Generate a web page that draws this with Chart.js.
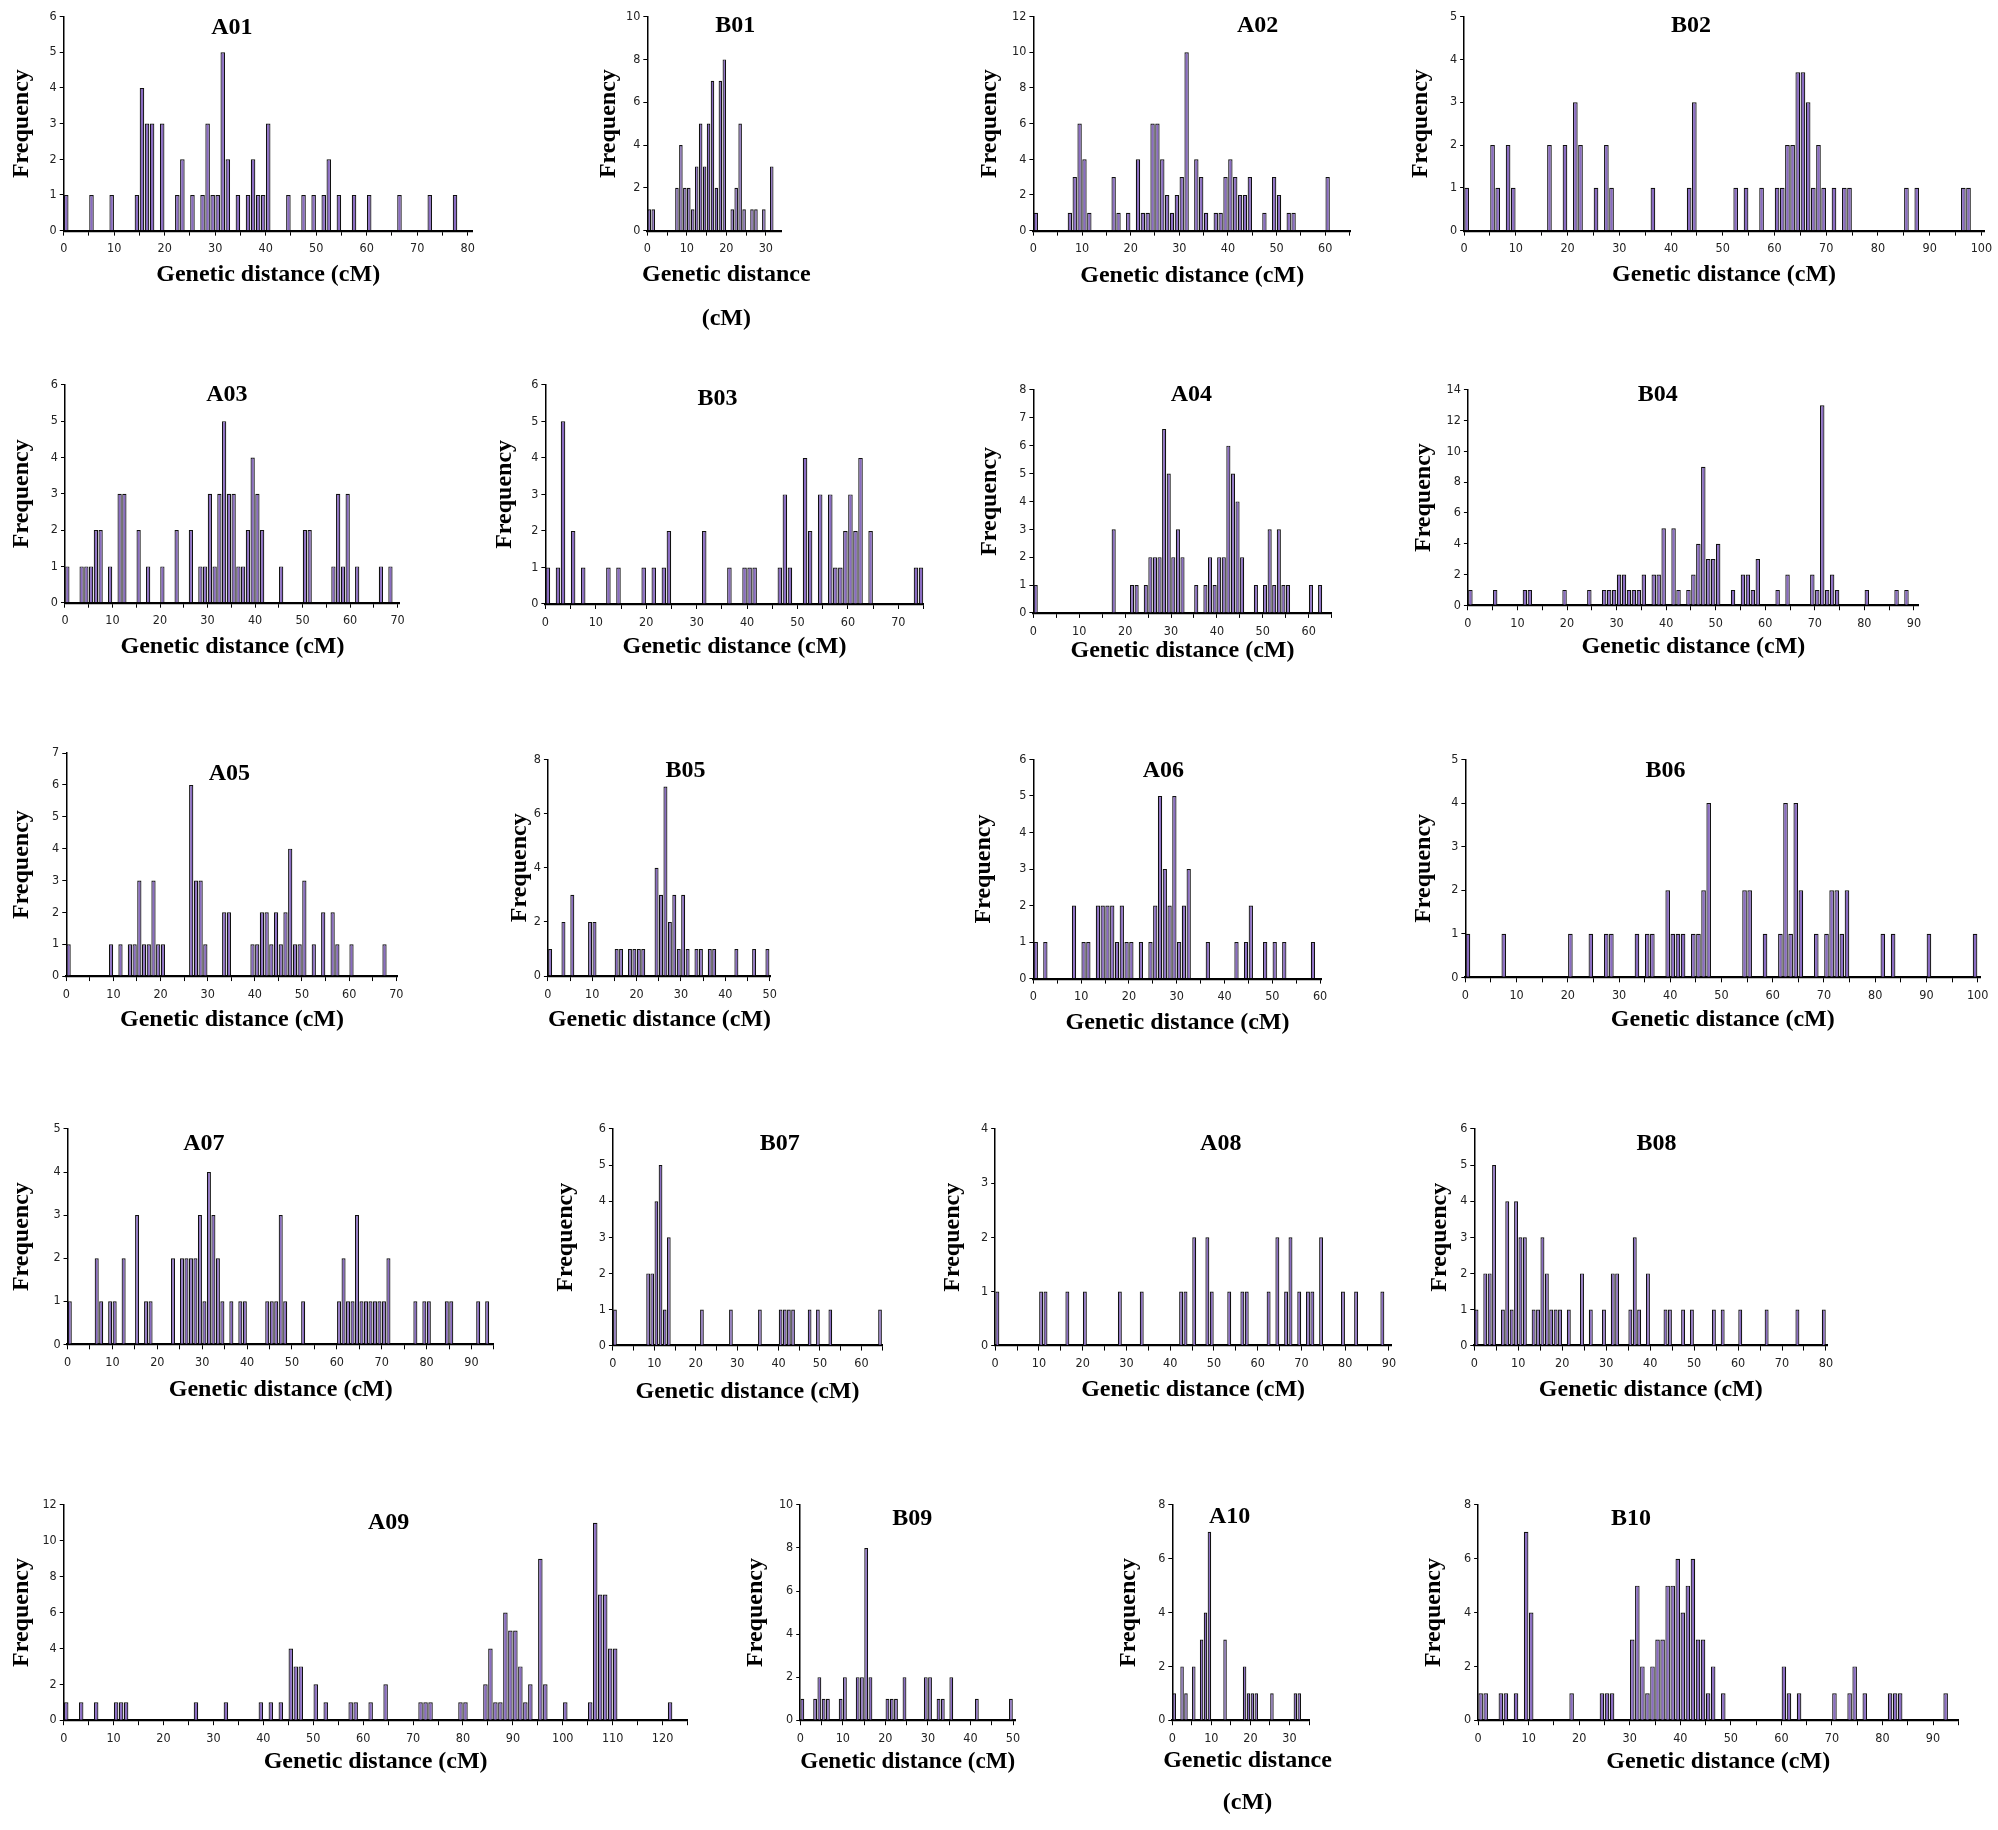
<!DOCTYPE html>
<html><head><meta charset="utf-8">
<script src="https://cdn.jsdelivr.net/npm/chart.js@4.4.1/dist/chart.umd.min.js"></script>
<style>
html,body{margin:0;padding:0;background:#fff;}
#wrap{position:relative;width:1998px;height:1830px;overflow:hidden;background:#fff;}
canvas{position:absolute;}
</style></head><body><div id="wrap"></div>
<script>
// ---- Data: bin position (cM) and frequency for each linkage group ----
const A01_cM=[0,5,9,14,15,16,17,19,22,23,25,27,28,29,30,31,32,34,36,37,38,39,40,44,47,49,51,52,54,57,60,66,72,77];
const A01_freq=[1,1,1,1,4,3,3,3,1,2,1,1,3,1,1,5,2,1,1,2,1,1,3,1,1,1,1,2,1,1,1,1,1,1];
const B01_cM=[0,1,7,8,9,10,11,12,13,14,15,16,17,18,19,21,22,23,24,26,27,29,31];
const B01_freq=[1,1,2,4,2,2,1,3,5,3,5,7,2,7,8,1,2,5,1,1,1,1,3];
const A02_cM=[0,7,8,9,10,11,16,17,19,21,22,23,24,25,26,27,28,29,30,31,33,34,35,37,38,39,40,41,42,43,44,47,49,50,52,53,60];
const A02_freq=[1,1,3,6,4,1,3,1,1,4,1,1,6,6,4,2,1,2,3,10,4,3,1,1,1,3,4,3,2,2,3,1,3,2,1,1,3];
const B02_cM=[0,5,6,8,9,16,19,21,22,25,27,28,36,43,44,52,54,57,60,61,62,63,64,65,66,67,68,69,71,73,74,85,87,96,97];
const B02_freq=[1,2,1,2,1,2,2,3,2,1,2,1,1,1,3,1,1,1,1,1,2,2,3.7,3.7,3,1,2,1,1,1,1,1,1,1,1];
const A03_cM=[0,3,4,5,6,7,9,11,12,15,17,20,23,26,28,29,30,31,32,33,34,35,36,37,38,39,40,41,45,50,51,56,57,58,59,61,66,68];
const A03_freq=[1,1,1,1,2,2,1,3,3,2,1,1,2,2,1,1,3,1,3,5,3,3,1,1,2,4,3,2,1,2,2,1,3,1,3,1,1,1];
const B03_cM=[0,2,3,5,7,12,14,19,21,23,24,31,36,39,40,41,46,47,48,51,52,54,56,57,58,59,60,61,62,64,73,74];
const B03_freq=[1,1,5,2,1,1,1,1,1,1,2,2,1,1,1,1,1,3,1,4,2,3,3,1,1,2,3,2,4,2,1,1];
const A04_cM=[0,17,21,22,24,25,26,27,28,29,30,31,32,35,37,38,39,40,41,42,43,44,45,48,50,51,52,53,54,55,60,62];
const A04_freq=[1,3,1,1,1,2,2,2,6.6,5,2,3,2,1,1,2,1,2,2,6,5,4,2,1,1,3,1,3,1,1,1,1];
const B04_cM=[0,5,11,12,19,24,27,28,29,30,31,32,33,34,35,37,38,39,41,42,44,45,46,47,48,49,50,53,55,56,57,58,62,64,69,70,71,72,73,74,80,86,88];
const B04_freq=[1,1,1,1,1,1,1,1,1,2,2,1,1,1,2,2,2,5,5,1,1,2,4,9,3,3,4,1,2,2,1,3,1,2,2,1,13,1,2,1,1,1,1];
const A05_cM=[0,9,11,13,14,15,16,17,18,19,20,26,27,28,29,33,34,39,40,41,42,43,44,45,46,47,48,49,50,52,54,56,57,60,67];
const A05_freq=[1,1,1,1,1,3,1,1,3,1,1,6,3,3,1,2,2,1,1,2,2,1,2,1,2,4,1,1,3,1,2,2,1,1,1];
const B05_cM=[0,3,5,9,10,15,16,18,19,20,21,24,25,26,27,28,29,30,31,33,34,36,37,42,46,49];
const B05_freq=[1,2,3,2,2,1,1,1,1,1,1,4,3,7,2,3,1,3,1,1,1,1,1,1,1,1];
const A06_cM=[0,2,8,10,11,13,14,15,16,17,18,19,20,22,24,25,26,27,28,29,30,31,32,36,42,44,45,48,50,52,58];
const A06_freq=[1,1,2,1,1,2,2,2,2,1,2,1,1,1,1,2,5,3,2,5,1,2,3,1,1,1,2,1,1,1,1];
const B06_cM=[0,7,20,24,27,28,33,35,36,39,40,41,42,44,45,46,47,54,55,58,61,62,63,64,65,68,70,71,72,73,74,81,83,90,99];
const B06_freq=[1,1,1,1,1,1,1,1,1,2,1,1,1,1,1,2,4,2,2,1,1,4,1,4,2,1,1,2,2,1,2,1,1,1,1];
const A07_cM=[0,6,7,9,10,12,15,17,18,23,25,26,27,28,29,30,31,32,33,34,36,38,39,44,45,46,47,48,52,60,61,62,63,64,65,66,67,68,69,70,71,77,79,80,84,85,91,93];
const A07_freq=[1,2,1,1,1,2,3,1,1,2,2,2,2,2,3,1,4,3,2,1,1,1,1,1,1,1,3,1,1,1,2,1,1,3,1,1,1,1,1,1,2,1,1,1,1,1,1,1];
const B07_cM=[0,8,9,10,11,12,13,21,28,35,40,41,42,43,47,49,52,64];
const B07_freq=[1,2,2,4,5,1,3,1,1,1,1,1,1,1,1,1,1,1];
const A08_cM=[0,10,11,16,20,28,33,42,43,45,48,49,53,56,57,62,64,66,67,69,71,72,74,79,82,88];
const A08_freq=[1,1,1,1,1,1,1,1,1,2,2,1,1,1,1,1,2,1,2,1,1,1,2,1,1,1];
const B08_cM=[0,2,3,4,6,7,8,9,10,11,13,14,15,16,17,18,19,21,24,26,29,31,32,35,36,37,39,43,44,47,49,54,56,60,66,73,79];
const B08_freq=[1,2,2,5,1,4,1,4,3,3,1,1,3,2,1,1,1,1,2,1,1,2,2,1,3,1,2,1,1,1,1,1,1,1,1,1,1];
const A09_cM=[0,3,6,10,11,12,26,32,39,41,43,45,46,47,50,52,57,58,61,64,71,72,73,79,80,84,85,86,87,88,89,90,91,92,93,95,96,100,105,106,107,108,109,110,121];
const A09_freq=[1,1,1,1,1,1,1,1,1,1,1,4,3,3,2,1,1,1,1,2,1,1,1,1,1,2,4,1,1,6,5,5,3,1,2,9,2,1,1,11,7,7,4,4,1];
const B09_cM=[0,3,4,5,6,9,10,13,14,15,16,20,21,22,24,29,30,32,33,35,41,49];
const B09_freq=[1,1,2,1,1,1,2,2,2,8,2,1,1,1,2,2,2,1,1,2,1,1];
const A10_cM=[0,2,3,5,7,8,9,13,18,19,20,21,25,31,32];
const A10_freq=[1,2,1,2,3,4,7,3,2,1,1,1,1,1,1];
const B10_cM=[0,1,4,5,7,9,10,18,24,25,26,30,31,32,33,34,35,36,37,38,39,40,41,42,43,44,45,46,48,60,61,63,70,73,74,76,81,82,83,92];
const B10_freq=[1,1,1,1,1,7,4,1,1,1,1,3,5,2,1,2,3,3,5,5,6,4,5,6,3,3,1,2,1,2,1,1,1,1,2,1,1,1,1,1];

const X_TITLE = 'Genetic distance (cM)';
const X_TITLE_SPLIT = ['Genetic distance', '(cM)'];
const Y_TITLE = 'Frequency';

// ---- Layout (reference coordinates at 1568 px width, scaled by S) ----
const S = 1998/1568;
const layout = [
 {id:'A01',cm:A01_cM,f:A01_freq,L:50,T:13,B:181,pv:367,lv:80,xmax:81,ymax:6,ys:1,tx:182,ty:22,xty:215,fx:17},
 {id:'B01',cm:B01_cM,f:B01_freq,L:508,T:13,B:181,pv:601,lv:30,xmax:34,ymax:10,ys:2,tx:577,ty:20,xty:216,fx:478,two:true,xtx:570,gap:34},
 {id:'A02',cm:A02_cM,f:A02_freq,L:811,T:13,B:181,pv:1040,lv:60,xmax:65.3,ymax:12,ys:2,tx:987,ty:20,xty:216,fx:777},
 {id:'B02',cm:B02_cM,f:B02_freq,L:1149,T:13,B:181,pv:1555,lv:100,xmax:100.5,ymax:5,ys:1,tx:1327,ty:20,xty:215,fx:1115},
 {id:'A03',cm:A03_cM,f:A03_freq,L:51,T:302,B:473,pv:312,lv:70,xmax:70.5,ymax:6,ys:1,tx:178,ty:310,xty:507,fx:17},
 {id:'B03',cm:B03_cM,f:B03_freq,L:428,T:302,B:474,pv:705,lv:70,xmax:75,ymax:6,ys:1,tx:563,ty:313,xty:507,fx:396},
 {id:'A04',cm:A04_cM,f:A04_freq,L:811,T:306,B:481,pv:1027,lv:60,xmax:65,ymax:8,ys:1,tx:935,ty:310,xty:510,fx:777},
 {id:'B04',cm:B04_cM,f:B04_freq,L:1152,T:306,B:475,pv:1502,lv:90,xmax:91,ymax:14,ys:2,tx:1301,ty:310,xty:507,fx:1117},
 {id:'A05',cm:A05_cM,f:A05_freq,L:52,T:591,B:766,pv:311,lv:70,xmax:70.3,ymax:7,ys:1,tx:180,ty:607,xty:800,fx:17},
 {id:'B05',cm:B05_cM,f:B05_freq,L:430,T:596,B:766,pv:604,lv:50,xmax:50.3,ymax:8,ys:2,tx:538,ty:605,xty:800,fx:408},
 {id:'A06',cm:A06_cM,f:A06_freq,L:811,T:596,B:768,pv:1036,lv:60,xmax:60.3,ymax:6,ys:1,tx:913,ty:605,xty:802,fx:772},
 {id:'B06',cm:B06_cM,f:B06_freq,L:1150,T:596,B:767,pv:1552,lv:100,xmax:100.5,ymax:5,ys:1,tx:1307,ty:605,xty:800,fx:1117},
 {id:'A07',cm:A07_cM,f:A07_freq,L:53,T:886,B:1055,pv:370,lv:90,xmax:95,ymax:5,ys:1,tx:160,ty:898,xty:1090,fx:17},
 {id:'B07',cm:B07_cM,f:B07_freq,L:481,T:886,B:1056,pv:676,lv:60,xmax:65,ymax:6,ys:1,tx:612,ty:898,xty:1092,fx:444},
 {id:'A08',cm:A08_cM,f:A08_freq,L:781,T:886,B:1056,pv:1090,lv:90,xmax:90.5,ymax:4,ys:1,tx:958,ty:898,xty:1090,fx:748},
 {id:'B08',cm:B08_cM,f:B08_freq,L:1157,T:886,B:1056,pv:1433,lv:80,xmax:80.3,ymax:6,ys:1,tx:1300,ty:898,xty:1090,fx:1130},
 {id:'A09',cm:A09_cM,f:A09_freq,L:50,T:1181,B:1350,pv:520,lv:120,xmax:125,ymax:12,ys:2,tx:305,ty:1195,xty:1382,fx:17},
 {id:'B09',cm:B09_cM,f:B09_freq,L:628,T:1181,B:1350,pv:795,lv:50,xmax:50.5,ymax:10,ys:2,tx:716,ty:1192,xty:1382,fx:593},
 {id:'A10',cm:A10_cM,f:A10_freq,L:920,T:1181,B:1350,pv:1012,lv:30,xmax:35,ymax:8,ys:2,tx:965,ty:1190,xty:1382,fx:886,two:true,xtx:979,gap:33},
 {id:'B10',cm:B10_cM,f:B10_freq,L:1160,T:1181,B:1350,pv:1517,lv:90,xmax:95,ymax:8,ys:2,tx:1280,ty:1192,xty:1382,fx:1125}
];

const SERIF = "'Liberation Serif','Times New Roman',serif";
const SANS = "'Liberation Sans Narrow','Arial Narrow','DejaVu Sans Condensed','Liberation Sans',sans-serif";
const BAR_FILL = '#8a6cc2';

// panel title (inside plot) and, for narrow panels, a two-line x title that may overflow the plot width
const panelText = {
  id:'ptext',
  afterDraw(chart, args, o){
    const ctx = chart.ctx;
    ctx.save();
    ctx.font = 'bold 24px ' + SERIF;
    ctx.fillStyle = '#000';
    ctx.textAlign = 'center';
    ctx.textBaseline = 'middle';
    ctx.fillText(o.text, o.x, o.y);
    if (o.lines) {
      o.lines.forEach((t, i) => ctx.fillText(t, o.lx, o.ly + i * o.lgap));
    }
    ctx.restore();
  }
};

const wrap = document.getElementById('wrap');
const YW = 64, PT = 14;

layout.forEach(p => {
  const PR = p.two ? 80 : 22;
  const L = p.L*S, T = p.T*S, B = p.B*S;
  const unit = (p.pv - p.L)*S / p.lv;
  const plotW = unit * p.xmax;
  const plotH = B - T;
  const cl = Math.round(L - YW), ct = Math.round(T - PT);
  const yw = L - cl, pt = T - ct;
  const xtDy = (p.xty - p.B)*S;
  const HX = p.two ? xtDy + p.gap*S + 16 : xtDy + 14.4;
  const cw = Math.ceil(yw + plotW + PR);
  const ch = Math.ceil(pt + plotH + HX);
  const pr = cw - yw - plotW;
  const xh = ch - pt - plotH;
  const ypad = Math.max(0, yw - (p.L - p.fx)*S - 14.4);

  const cv = document.createElement('canvas');
  cv.width = cw; cv.height = ch;
  cv.style.left = cl + 'px'; cv.style.top = ct + 'px';
  cv.style.width = cw + 'px'; cv.style.height = ch + 'px';
  wrap.appendChild(cv);

  const textOpts = {text:p.id, x:p.tx*S - cl, y:p.ty*S - ct};
  if (p.two) {
    textOpts.lines = X_TITLE_SPLIT;
    textOpts.lx = p.xtx*S - cl;
    textOpts.ly = p.xty*S - ct;
    textOpts.lgap = p.gap*S;
  }

  new Chart(cv, {
    type:'bar',
    data:{datasets:[{
      data: p.cm.map((x,i)=>({x:x+0.5, y:p.f[i]})),
      backgroundColor: BAR_FILL,
      borderColor:'#111',
      borderWidth:1.2,
      barPercentage:0.9,
      categoryPercentage:1,
      borderSkipped:'bottom'
    }]},
    options:{
      responsive:false, animation:false, maintainAspectRatio:false,
      layout:{padding:{left:0, top:pt, right:pr, bottom:0}},
      plugins:{legend:{display:false}, tooltip:{enabled:false}, title:{display:false}, ptext:textOpts},
      scales:{
        x:{type:'linear', min:0, max:p.xmax, offset:false, position:'bottom',
          grid:{display:true, drawOnChartArea:false, drawTicks:true, tickLength:5, color:'#000', lineWidth:1, offset:false},
          border:{display:true, color:'#000', width:2.2},
          ticks:{stepSize:5, includeBounds:false, autoSkip:false, maxRotation:0, minRotation:0, padding:6,
            color:'#222', font:{family:SANS, size:12.5},
            callback:v => (Math.abs(v % 10) < 1e-9 ? String(v) : '')},
          title:{display:!p.two, text:X_TITLE, color:'#000',
            font:{family:SERIF, size:24, weight:'bold', lineHeight:1.2}, padding:{top:0,bottom:0}},
          afterFit: s => { s.height = xh; }
        },
        y:{type:'linear', min:0, max:p.ymax, position:'left',
          grid:{display:true, drawOnChartArea:false, drawTicks:true, tickLength:4, color:'#000', lineWidth:1},
          border:{display:true, color:'#000', width:1.5},
          ticks:{stepSize:p.ys, padding:3, color:'#222', font:{family:SANS, size:12.5}},
          title:{display:true, text:Y_TITLE, color:'#000', font:{family:SERIF, size:24, weight:'bold'}, padding:{top:ypad, bottom:0}},
          afterFit: s => { s.width = yw; }
        }
      }
    },
    plugins:[panelText]
  });
});
</script>
</body></html>
